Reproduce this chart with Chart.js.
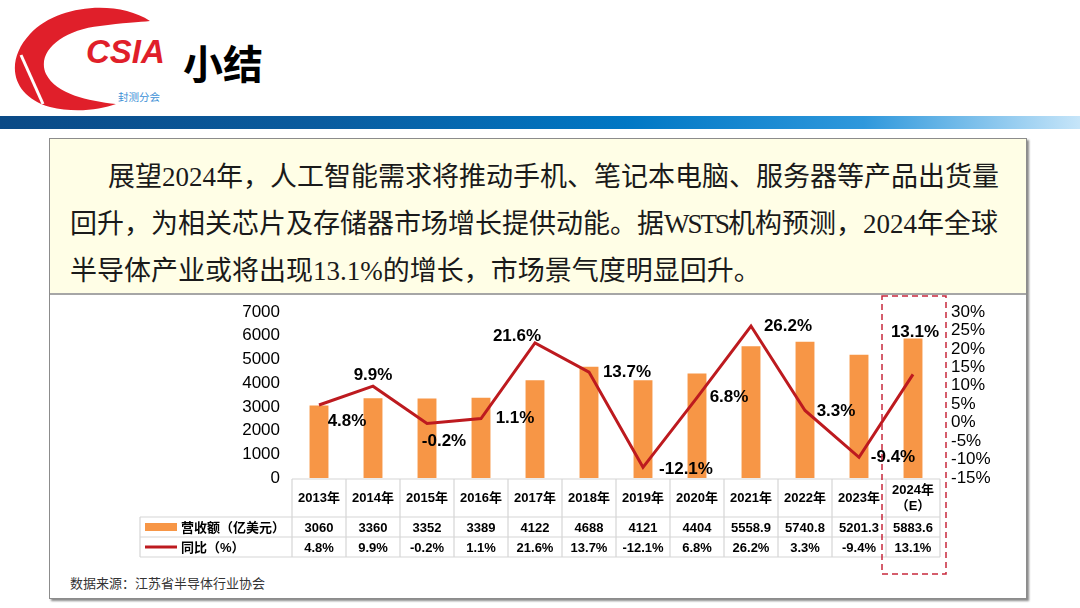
<!DOCTYPE html>
<html>
<head>
<meta charset="utf-8">
<script src="https://cdn.jsdelivr.net/npm/chart.js@4.4.1/dist/chart.umd.min.js"></script>
<style>
  body { margin: 0; width: 1080px; height: 608px; position: relative; overflow: hidden; background: #fff;
         font-family: "Liberation Sans", "Noto Sans CJK SC", sans-serif; }
  .bar { position: absolute; left: 0; top: 116px; width: 1080px; height: 13px;
         background: linear-gradient(to right, #0b4a86 0%, #0a5c9f 30%, #0077c4 58%, #2f98dc 80%, #c6e5f9 100%); }
  .title { position: absolute; left: 183px; top: 36px; font-size: 40px; font-weight: 700; color: #000;
           font-family: "Noto Sans CJK SC", sans-serif; line-height: 52px; }
  .panel { position: absolute; left: 49px; top: 138px; width: 976px; height: 459px; background: #fff;
           border: 1px solid #8c8c8c; box-shadow: 2px 2px 2px #8a8a8a; }
  .note { position: absolute; left: 0; top: 0; width: 976px; height: 154px; background: #fffee6;
          border-bottom: 2px solid #a6a6a6; }
  .note div { position: absolute; white-space: nowrap; font-size: 27px; line-height: 30px; color: #1a1a1a;
              font-family: "Liberation Serif", "Noto Sans CJK SC", serif; }
  .note span { letter-spacing: -2px; }
  .src { position: absolute; left: 70px; top: 573px; font-size: 13px; color: #333;
         font-family: "Noto Sans CJK SC", sans-serif; }
  #wrap { position: absolute; left: 60px; top: 292px; width: 940px; height: 290px; }
</style>
</head>
<body>
<svg style="position:absolute;left:0;top:0" width="180" height="112" viewBox="0 0 180 112">
  <path fill="#e01f2a"
    d="M 150 21 C 118 0 58 4 30 34 C 4 62 12 96 50 107 C 74 113 100 110 116 104
       C 88 101 56 94 46 74 C 36 52 62 30 100 26 C 122 23 140 22 150 21 Z"/>
  <line x1="21" y1="55" x2="43" y2="104" stroke="#fff" stroke-width="3"/>
  <text x="86" y="63" font-family="Liberation Sans" font-weight="700" font-style="italic" font-size="33" fill="#e01f2a">CSIA</text>
  <text x="118" y="101" font-family="Noto Sans CJK SC" font-size="10.5" fill="#3b8fd6">封测分会</text>
</svg>
<div class="title">小结</div>
<div class="bar"></div>
<div class="panel">
  <div class="note">
    <div style="left:58px;top:23px">展望2024年，人工智能需求将推动手机、笔记本电脑、服务器等产品出货量</div>
    <div style="left:20px;top:70px">回升，为相关芯片及存储器市场增长提供动能。据<span>WSTS</span>机构预测，2024年全球</div>
    <div style="left:20px;top:117px">半导体产业或将出现13.1%的增长，市场景气度明显回升。</div>
  </div>
</div>
<div class="src">数据来源：江苏省半导体行业协会</div>
<div id="wrap"><canvas id="chart" width="940" height="290"></canvas></div>

<script>
const categories = ['2013年', '2014年', '2015年', '2016年', '2017年', '2018年', '2019年', '2020年', '2021年', '2022年', '2023年', ['2024年', '（E）']];
const revenue = [3060, 3360, 3352, 3389, 4122, 4688, 4121, 4404, 5558.9, 5740.8, 5201.3, 5883.6];
const growth = [4.8, 9.9, -0.2, 1.1, 21.6, 13.7, -12.1, 6.8, 26.2, 3.3, -9.4, 13.1];
const revenueName = '营收额（亿美元）';
const growthName = '同比（%）';

// where each growth label sits relative to its point (dx, dy)
const labelOffsets = [[28, 16], [0, -11], [17, 18], [34, 0], [-18, -7], [38, 0], [43, 2], [32, 0], [37, 0], [31, 1], [34, 0], [2, -42]];

const barColor = '#f79646';
const lineColor = '#bd1a1f';

Chart.defaults.font.family = '"Liberation Sans", "Noto Sans CJK SC", sans-serif';
Chart.defaults.color = '#000';

const growthLabels = {
  id: 'growthLabels',
  afterDatasetsDraw(chart) {
    const ctx = chart.ctx;
    const pts = chart.getDatasetMeta(1).data;
    ctx.save();
    ctx.font = 'bold 17px "Liberation Sans"';
    ctx.fillStyle = '#000';
    ctx.textAlign = 'center';
    ctx.textBaseline = 'middle';
    pts.forEach((p, i) => {
      ctx.fillText(growth[i].toFixed(1) + '%', p.x + labelOffsets[i][0], p.y + labelOffsets[i][1]);
    });
    ctx.restore();
  }
};

const dataTable = {
  id: 'dataTable',
  afterDraw(chart) {
    const ctx = chart.ctx;
    const a = chart.chartArea;
    const x = chart.scales.x;
    const w = (a.right - a.left) / categories.length;
    const t0 = a.bottom + 1, t1 = a.bottom + 39, t2 = a.bottom + 59, t3 = a.bottom + 79;
    const legL = 80;
    const line = (x1, y1, x2, y2) => { ctx.beginPath(); ctx.moveTo(x1, y1); ctx.lineTo(x2, y2); ctx.stroke(); };

    ctx.save();
    ctx.strokeStyle = '#d6d6d6';
    ctx.lineWidth = 1.2;
    line(a.left, t0, a.right, t0);
    line(legL, t1, a.right, t1);
    line(legL, t2, a.right, t2);
    line(legL, t3, a.right, t3);
    line(legL, t1, legL, t3);
    for (let i = 0; i <= categories.length; i++) {
      line(a.left + i * w, t0, a.left + i * w, t3);
    }

    ctx.fillStyle = '#000';
    ctx.font = 'bold 13px "Liberation Sans", "Noto Sans CJK SC"';
    ctx.textAlign = 'center';
    ctx.textBaseline = 'middle';
    categories.forEach((c, i) => {
      const cx = x.getPixelForValue(i);
      if (Array.isArray(c)) {
        ctx.fillText(c[0], cx, (t0 + t1) / 2 - 8);
        ctx.fillText(c[1], cx, (t0 + t1) / 2 + 8);
      } else {
        ctx.fillText(c, cx, (t0 + t1) / 2);
      }
      ctx.fillText(String(revenue[i]), cx, (t1 + t2) / 2 + 1);
      ctx.fillText(growth[i].toFixed(1) + '%', cx, (t2 + t3) / 2 + 1);
    });

    // legend keys
    ctx.fillStyle = barColor;
    ctx.fillRect(legL + 5, (t1 + t2) / 2 - 4, 32, 8);
    ctx.strokeStyle = lineColor;
    ctx.lineWidth = 3;
    line(legL + 5, (t2 + t3) / 2, legL + 37, (t2 + t3) / 2);
    ctx.fillStyle = '#000';
    ctx.textAlign = 'left';
    ctx.fillText(revenueName, legL + 41, (t1 + t2) / 2 + 1);
    ctx.fillText(growthName, legL + 41, (t2 + t3) / 2 + 1);

    // dashed frame round the forecast year
    ctx.strokeStyle = '#c8283c';
    ctx.lineWidth = 1.5;
    ctx.setLineDash([6, 4]);
    ctx.strokeRect(a.left + 11 * w - 4, 4, w + 10, 278);
    ctx.restore();
  }
};

new Chart(document.getElementById('chart'), {
  type: 'bar',
  data: {
    labels: categories,
    datasets: [{
      label: revenueName,
      data: revenue,
      backgroundColor: barColor,
      barPercentage: 0.35,
      categoryPercentage: 1,
      yAxisID: 'y',
      order: 1
    }, {
      type: 'line',
      label: growthName,
      data: growth,
      borderColor: lineColor,
      borderWidth: 3,
      pointRadius: 0,
      tension: 0,
      yAxisID: 'y1',
      order: 0
    }]
  },
  options: {
    responsive: false,
    animation: false,
    layout: { padding: { top: 20, bottom: 104, left: 0, right: 0 } },
    plugins: { legend: { display: false }, tooltip: { enabled: false } },
    scales: {
      x: { display: false, offset: true },
      y: {
        position: 'left',
        min: 0, max: 7000,
        grid: { display: false },
        border: { display: false },
        ticks: { stepSize: 1000, font: { size: 17 }, padding: 4, autoSkip: false, callback: v => String(v) },
        afterFit: s => { s.width = 232; }
      },
      y1: {
        position: 'right',
        min: -15, max: 30,
        grid: { display: false },
        border: { display: false },
        ticks: { stepSize: 5, font: { size: 17 }, padding: 3, autoSkip: false, callback: v => v + '%' },
        afterFit: s => { s.width = 60; }
      }
    }
  },
  plugins: [growthLabels, dataTable]
});
</script>
</body>
</html>
